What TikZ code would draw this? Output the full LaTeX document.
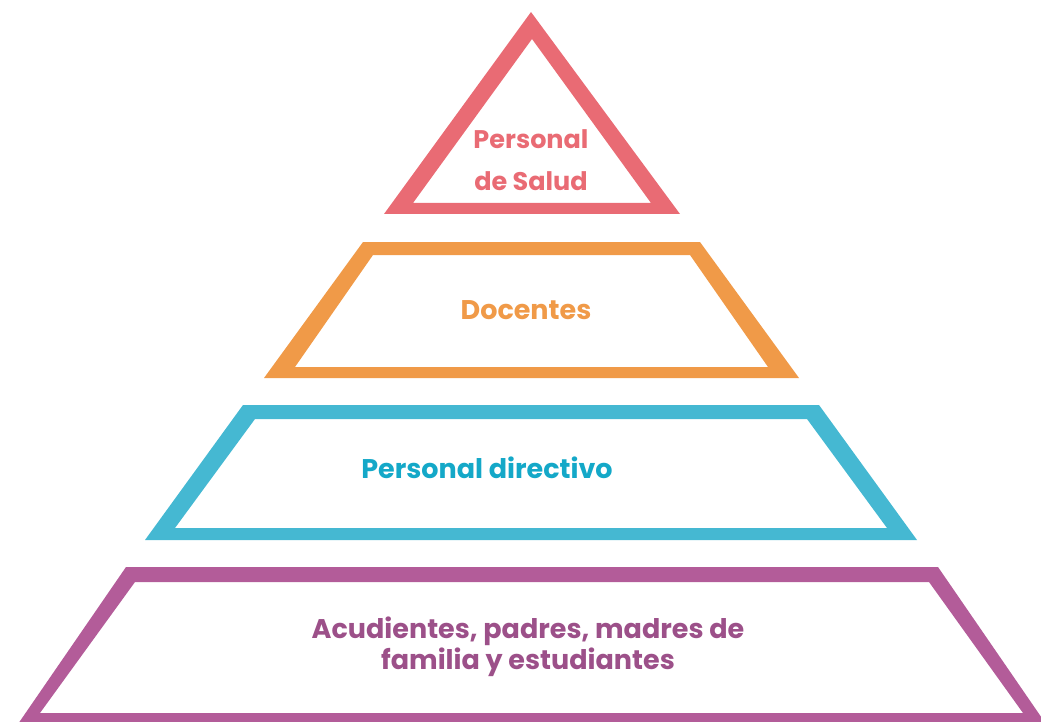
\documentclass[tikz,border=0pt]{standalone}
\usepackage{fontspec}
\setmainfont{Poppins}
\definecolor{cSalud}{HTML}{E96B74}
\definecolor{cDoc}{HTML}{F09A48}
\definecolor{cDir}{HTML}{45B8D2}
\definecolor{tDir}{HTML}{14A8C8}
\definecolor{cFam}{HTML}{B35C99}
\definecolor{tFam}{HTML}{9C5089}
\tikzset{
  band/.style={even odd rule},
  lbl/.style={align=center, inner sep=0pt, font=\bfseries\fontsize{27}{31}\selectfont}
}
\begin{document}
\begin{tikzpicture}[x=1pt,y=-1pt]
\useasboundingbox (0,0) rectangle (1041,722);
\clip (0,0) rectangle (1041,722);
% level 1: triangle
\fill[band, cSalud] (531,12) -- (680,214) -- (384,214) -- cycle
  (532,39) -- (651,203) -- (413,203) -- cycle;
% level 2
\fill[band, cDoc] (363,242) -- (700,242) -- (799,378) -- (264,378) -- cycle
  (373,255) -- (690,255) -- (768,367) -- (295,367) -- cycle;
% level 3
\fill[band, cDir] (243,405) -- (819,405) -- (917,540) -- (145,540) -- cycle
  (255,419) -- (807,419) -- (887,528) -- (175,528) -- cycle;
% level 4
\fill[band, cFam] (126,567) -- (938,567) -- (1046,724) -- (18,724) -- cycle
  (135,582) -- (929,582) -- (1023,713) -- (40,713) -- cycle;
% labels
\node[lbl, text=cSalud, font=\bfseries\fontsize{25.5}{42}\selectfont] (salud) at (531,160) {Personal\\de Salud};
\node[lbl, text=cDoc] (doc) at (526,310) {Docentes};
\node[lbl, text=tDir] (dir) at (487,468) {Personal directivo};
\node[lbl, text=tFam] (fam) at (528,647) {Acudientes, padres, madres de\\familia y estudiantes};
\end{tikzpicture}
\end{document}
